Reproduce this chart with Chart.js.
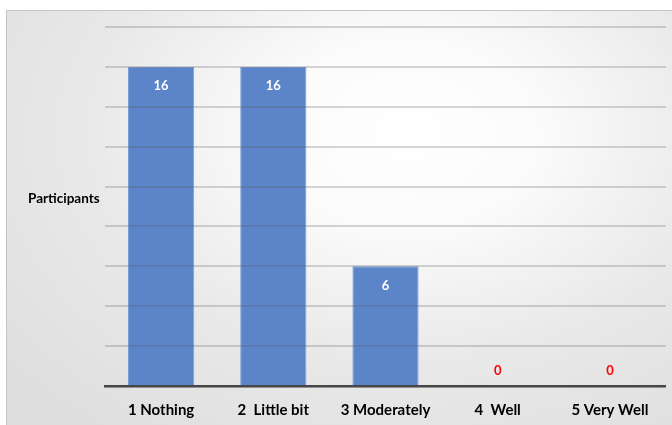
<!DOCTYPE html>
<html>
<head>
<meta charset="utf-8">
<script src="https://cdn.jsdelivr.net/npm/chart.js@4.4.1/dist/chart.umd.min.js"></script>
<style>
    html, body { margin: 0; padding: 0; width: 672px; height: 425px; overflow: hidden; background: #ffffff; position: relative; }
    #frame {
        position: absolute; left: 6px; top: 10px; width: 700px; height: 440px;
        border: 1px solid #c4c4c4;
        background: radial-gradient(ellipse 75% 85% at 57% 28%, #ffffff 0%, #fbfbfb 25%, #e9e9e9 60%, #dedede 100%);
    }
    #wrap { position: absolute; left: 0; top: 0; width: 666px; height: 434px; }
</style>
</head>
<body>
<div id="frame"></div>
<div id="wrap"><canvas id="participantsChart" width="666" height="434"></canvas></div>
<script>
const categories = ['1 Nothing', '2  Little bit', '3 Moderately', '4  Well', '5 Very Well'];
const participants = [16, 16, 6, 0, 0];
const yTicks = [0, 2, 4, 6, 8, 10, 12, 14, 16, 18];

const fontFamily = 'Lato, "Liberation Sans", sans-serif';

// value labels: white inside the bar top, red above the baseline for zero
const barLabels = {
    id: 'barLabels',
    afterDatasetsDraw(chart) {
        const ctx = chart.ctx;
        const meta = chart.getDatasetMeta(0);
        ctx.save();
        ctx.textAlign = 'center';
        ctx.textBaseline = 'middle';
        ctx.font = 'bold 13px ' + fontFamily;
        meta.data.forEach((bar, i) => {
            const val = participants[i];
            if (val > 0) {
                ctx.fillStyle = '#ffffff';
                ctx.fillText(String(val), bar.x, bar.y + 19);
            } else {
                ctx.fillStyle = '#ff0000';
                ctx.fillText(String(val), bar.x, bar.y - 15);
            }
        });
        ctx.restore();
    }
};

// horizontal axis title on the left
const sideTitle = {
    id: 'sideTitle',
    afterDraw(chart) {
        const ctx = chart.ctx;
        ctx.save();
        ctx.font = 'bold 13.5px ' + fontFamily;
        ctx.fillStyle = '#000000';
        ctx.textAlign = 'left';
        ctx.textBaseline = 'middle';
        ctx.fillText('Participants', 28, 199);
        ctx.restore();
    }
};

const ctx = document.getElementById('participantsChart').getContext('2d');
new Chart(ctx, {
    type: 'bar',
    data: {
        labels: categories,
        datasets: [{
            label: 'Participants',
            data: participants,
            backgroundColor: '#5b84c9',
            borderColor: '#7b9dd6',
            borderWidth: 1,
            categoryPercentage: 1,
            barPercentage: 0.59,
        }],
    },
    options: {
        responsive: false,
        animation: false,
        layout: { padding: { left: 105, right: 0, top: 27, bottom: 0 } },
        plugins: {
            legend: { display: false },
            tooltip: { enabled: false },
        },
        scales: {
            x: {
                grid: { display: false, drawTicks: false },
                border: { display: true, color: '#404040', width: 2.5 },
                ticks: {
                    color: '#000000',
                    padding: 15,
                    font: { family: fontFamily, size: 15, weight: 'bold' },
                },
            },
            y: {
                min: 0,
                max: 18,
                afterBuildTicks: (axis) => { axis.ticks = yTicks.map(v => ({ value: v })); },
                ticks: { display: false },
                border: { display: false },
                grid: { color: 'rgba(90,90,90,0.25)', lineWidth: 2, drawTicks: false, z: 1 },
            },
        },
    },
    plugins: [barLabels, sideTitle],
});
</script>
</body>
</html>
